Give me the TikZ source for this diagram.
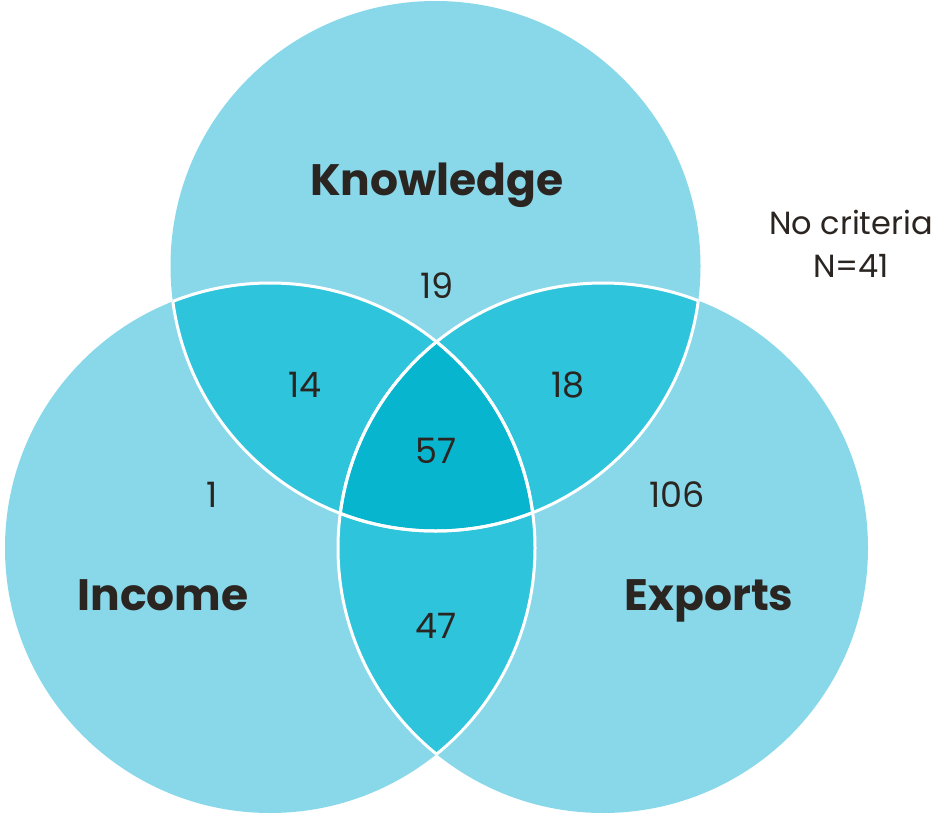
\documentclass[tikz,border=0pt]{standalone}
\usepackage{fontspec}
\setmainfont{Poppins}
\definecolor{lightc}{HTML}{88D8EA}
\definecolor{pairc}{HTML}{2EC4DB}
\definecolor{centc}{HTML}{07B6CE}
\definecolor{txt}{HTML}{2B2522}
\begin{document}
\begin{tikzpicture}[x=1pt,y=-1pt,
  lbl/.style={font=\fontsize{44}{48}\selectfont\bfseries, text=txt, inner sep=0pt, anchor=base},
  num/.style={font=\fontsize{35}{40}\selectfont, text=txt, inner sep=0pt, anchor=base},
  border/.style={draw=white, line width=3pt}]
\useasboundingbox (0,0) rectangle (940,816);
\coordinate (K) at (435.5,266);
\coordinate (I) at (270,548);
\coordinate (E) at (603,548);
\def\R{265}
% base fills
\fill[lightc] (K) circle (\R);
\fill[lightc] (I) circle (\R);
\fill[lightc] (E) circle (\R);
% pairwise
\begin{scope}\clip (K) circle (\R); \fill[pairc] (I) circle (\R); \fill[pairc] (E) circle (\R);\end{scope}
\begin{scope}\clip (I) circle (\R); \fill[pairc] (E) circle (\R);\end{scope}
% centre
\begin{scope}\clip (K) circle (\R); \clip (I) circle (\R); \fill[centc] (E) circle (\R);\end{scope}
% borders inside other circles only
\begin{scope}\clip (I) circle (\R); \draw[border] (K) circle (\R); \draw[border] (E) circle (\R);\end{scope}
\begin{scope}\clip (E) circle (\R); \draw[border] (K) circle (\R); \draw[border] (I) circle (\R);\end{scope}
\begin{scope}\clip (K) circle (\R); \draw[border] (I) circle (\R); \draw[border] (E) circle (\R);\end{scope}
% labels
\node[lbl] (tK) at (437,195) {Knowledge};
\node[lbl] (tI) at (163,610) {Income};
\node[lbl] (tE) at (709,610) {Exports};
\node[num] (n19) at (437,298) {19};
\node[num] (n14) at (305,397) {14};
\node[num] (n18) at (568,397) {18};
\node[num] (n57) at (436,463) {57};
\node[num] (n1) at (212,507) {1};
\node[num] (n106) at (677,507) {106};
\node[num] (n47) at (436,638) {47};
\node[num, font=\fontsize{32}{36}\selectfont] (nc) at (851,234) {No criteria};
\node[num, font=\fontsize{32}{36}\selectfont] (nn) at (851,277) {N=41};
\end{tikzpicture}
\end{document}
